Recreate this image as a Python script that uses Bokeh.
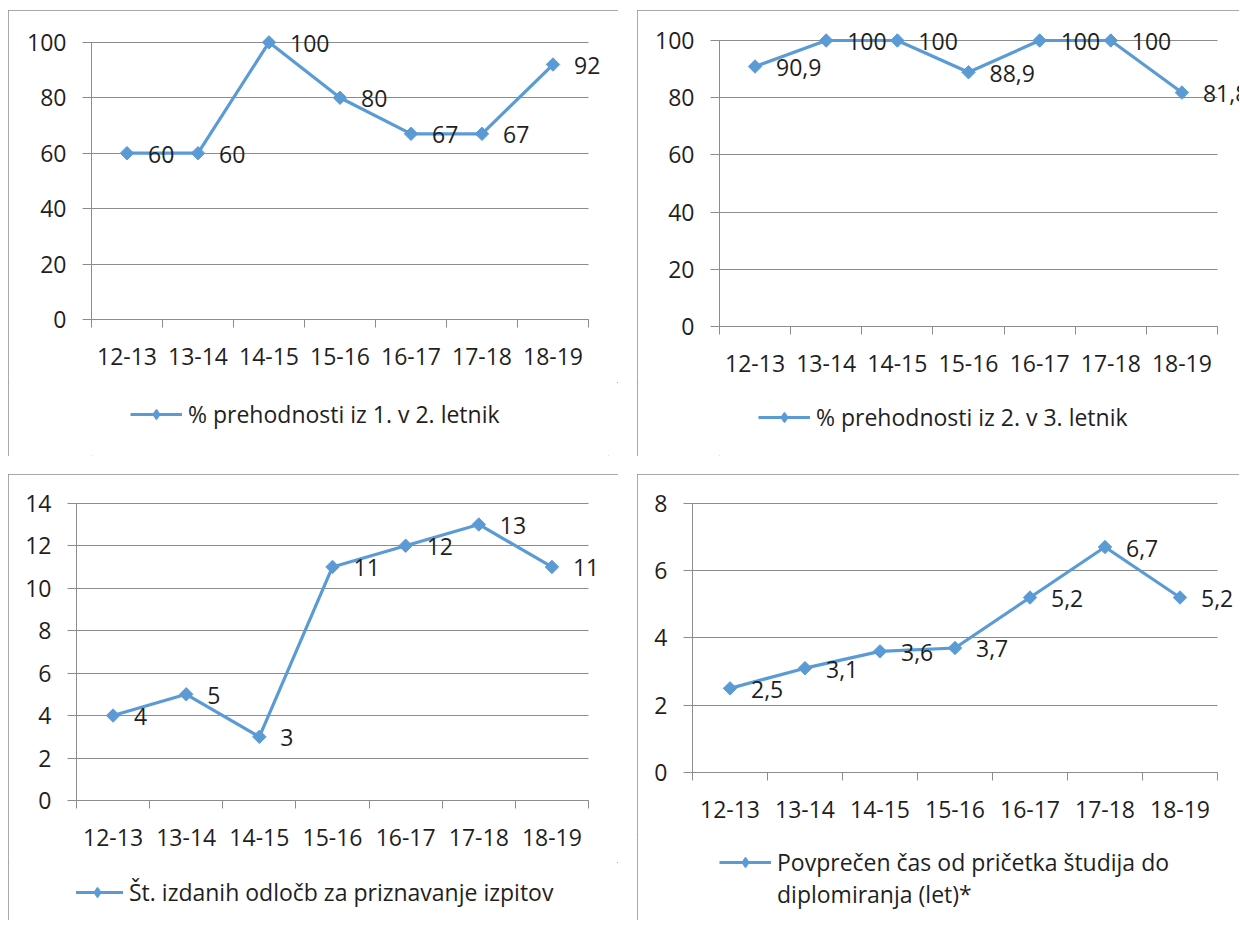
import math
from bokeh.plotting import figure
from bokeh.models import (ColumnDataSource, LabelSet, Range1d, FixedTicker, Legend,
                          LegendItem, Spacer, LinearAxis)
from bokeh.layouts import column, row
from bokeh.core.properties import value
from bokeh.embed import file_html
from bokeh.resources import INLINE

# ---------------- data ----------------
years = ["12-13", "13-14", "14-15", "15-16", "16-17", "17-18", "18-19"]

prehod_1_2 = [60, 60, 100, 80, 67, 67, 92]
prehod_2_3 = [90.9, 100, 100, 88.9, 100, 100, 81.8]
odlocbe = [4, 5, 3, 11, 12, 13, 11]
cas_studija = [2.5, 3.1, 3.6, 3.7, 5.2, 6.7, 5.2]

label_1 = ["% prehodnosti iz 1. v 2. letnik"]
label_2 = ["% prehodnosti iz 2. v 3. letnik"]
label_3 = ["Št. izdanih odločb za priznavanje izpitov"]
label_4 = ["Povprečen čas od pričetka študija do", "diplomiranja (let)*"]

yticks_pct = [0, 20, 40, 60, 80, 100]
yticks_odl = [0, 2, 4, 6, 8, 10, 12, 14]
yticks_cas = [0, 2, 4, 6, 8]

# ---------------- style ----------------
BLUE = "#5b9bd5"
GREY = "#8c8c8c"
TEXT = "#1f1f1f"
FONT = "Open Sans"
FS = "23px"
LINE_W = 3.2
MARK_S = 9.5


def make_panel(values, legend_lines, yticks, y_end, width, height, chart_h,
               b_left, b_right, b_top, b_bottom, cat_px, legend_xy, clip):
    n = len(years)
    xs = [i + 0.5 for i in range(n)]
    labels = [f"{v:g}".replace(".", ",") for v in values]
    src = ColumnDataSource(dict(x=xs, y=values, t=labels))

    frame_w = width - b_left - b_right
    x_end = n * frame_w / cat_px          # extra room on the right for data labels

    p = figure(width=width, height=chart_h,
               x_range=Range1d(0, x_end), y_range=Range1d(0, y_end),
               x_axis_type=None, y_axis_type=None,
               output_backend="svg", toolbar_location=None,
               min_border_left=b_left, min_border_right=b_right,
               min_border_top=b_top, min_border_bottom=b_bottom,
               outline_line_color=None, background_fill_color="white",
               border_fill_color="white")

    yt = FixedTicker(ticks=yticks)
    # major ticks reaching across the category area act as the horizontal gridlines
    yaxis = LinearAxis(ticker=yt, bounds=(yticks[0], yticks[-1]),
                       axis_line_color=GREY, major_tick_line_color=GREY,
                       major_tick_out=9, major_tick_in=cat_px,
                       minor_tick_line_color=None,
                       major_label_standoff=16,
                       major_label_text_font=FONT, major_label_text_font_size=FS,
                       major_label_text_color=TEXT)
    p.add_layout(yaxis, "left")

    xt = FixedTicker(ticks=xs, minor_ticks=list(range(n + 1)))
    xaxis = LinearAxis(ticker=xt, bounds=(0, n),
                       major_label_overrides={x: y for x, y in zip(xs, years)},
                       axis_line_color=GREY, major_tick_line_color=None,
                       major_tick_out=0, major_tick_in=0,
                       minor_tick_line_color=GREY, minor_tick_out=8, minor_tick_in=0,
                       major_label_standoff=20,
                       major_label_text_font=FONT, major_label_text_font_size=FS,
                       major_label_text_color=TEXT)
    p.add_layout(xaxis, "below")

    p.line("x", "y", source=src, line_color=BLUE, line_width=LINE_W, level="overlay")
    p.scatter("x", "y", source=src, marker="square", size=MARK_S, angle=math.pi / 4,
              fill_color=BLUE, line_color=BLUE, level="overlay")

    p.add_layout(LabelSet(x="x", y="y", text="t", source=src, x_offset=21, y_offset=-1,
                          text_baseline="middle", text_align="left",
                          text_font=value(FONT), text_font_size=value(FS),
                          text_color=TEXT, level="overlay"))

    # legend lives in its own small figure under the chart; the series is drawn
    # there too but falls outside that figure's ranges, so only the legend shows
    lg = figure(width=width, height=height - chart_h,
                x_range=Range1d(0, n), y_range=Range1d(-2, -1),
                x_axis_type=None, y_axis_type=None,
                output_backend="svg", toolbar_location=None,
                min_border=0, min_border_left=0, min_border_right=0,
                min_border_top=0, min_border_bottom=0,
                outline_line_color=None, background_fill_color="white",
                border_fill_color="white")
    lr_line = lg.line("x", "y", source=src, line_color=BLUE, line_width=LINE_W)
    lr_pts = lg.scatter("x", "y", source=src, marker="diamond", size=16,
                        fill_color=BLUE, line_color=BLUE, line_width=1.5)
    items = [LegendItem(label=legend_lines[0], renderers=[lr_line, lr_pts])]
    if len(legend_lines) > 1:
        blank = lg.line("x", "y", source=src, line_alpha=0)   # continuation line, no glyph
        for extra in legend_lines[1:]:
            items.append(LegendItem(label=extra, renderers=[blank]))
    legend = Legend(items=items,
                    location=legend_xy, orientation="vertical",
                    border_line_color=None, background_fill_alpha=0,
                    padding=0, margin=0, spacing=0,
                    glyph_width=52, glyph_height=24, label_standoff=6,
                    label_text_font=FONT, label_text_font_size=FS,
                    label_text_color=TEXT, label_height=24)
    lg.add_layout(legend, "center")

    styles = {"outline": f"1px solid {GREY}", "outline-offset": "-1px"}
    if clip:
        styles["clip-path"] = clip
    return column(p, lg, styles=styles)


b1 = make_panel(prehod_1_2, label_1, yticks_pct, 105.0, 610, 446, 372,
                83, 10, 18, 63, 497, (39, 26.5), None)
b2 = make_panel(prehod_2_3, label_2, yticks_pct, 104.9, 603, 446, 372,
                82, 0, 16, 56, 498, (39, 23.5), "inset(0px 1px 0px 0px)")
b3 = make_panel(odlocbe, label_3, yticks_odl, 14.6, 610, 447, 388,
                68, 10, 16, 62, 512, (-5, 13.5), "inset(0px 0px 1px 0px)")
b4 = make_panel(cas_studija, label_4, yticks_cas, 8.38, 603, 447, 360,
                55, 0, 16, 62, 525, (27, 11.5), "inset(0px 1px 1px 0px)")

layout = column(Spacer(height=10),
                row(Spacer(width=8), b1, Spacer(width=19), b2),
                Spacer(height=18),
                row(Spacer(width=8), b3, Spacer(width=19), b4))

open("out.html", "w").write(file_html(layout, INLINE))
